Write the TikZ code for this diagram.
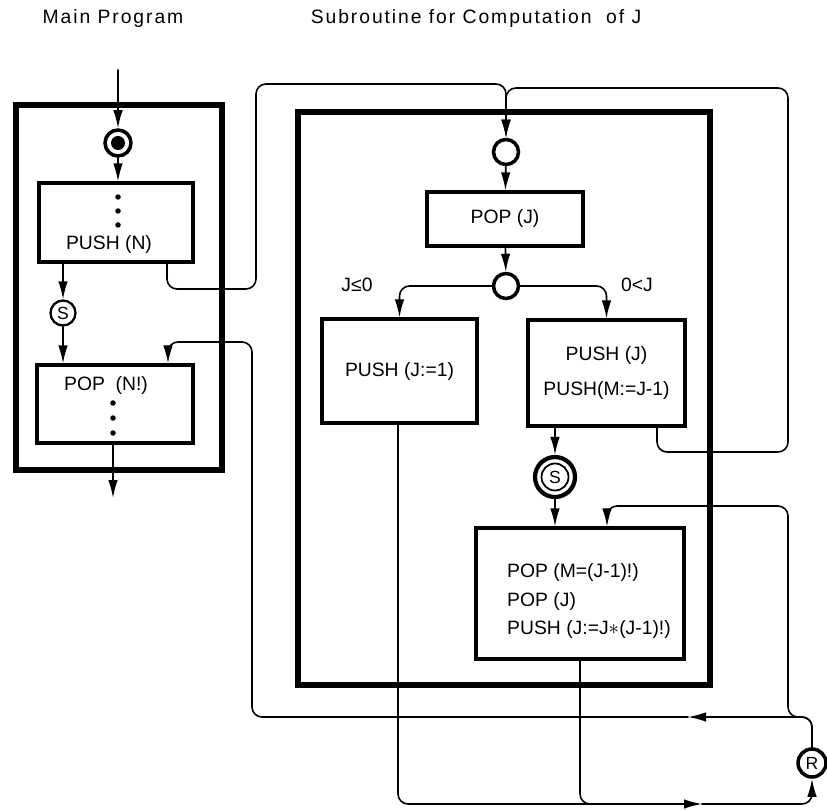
\documentclass[tikz,border=0pt]{standalone}
\usepackage{fontspec}
\setmainfont{Liberation Sans}
\newfontfamily\titlefont[LetterSpace=10]{Liberation Sans}
\usepackage{tikz}
\usetikzlibrary{arrows.meta}

\begin{document}
\begin{tikzpicture}[x=0.02cm,y=-0.02cm,cap=round,
        >={Latex[length=3.6mm,width=1.9mm]},
        conn/.style={line width=0.9pt,rounded corners=0.2cm},
        frame/.style={line width=3pt},
        box/.style={draw,rectangle,line width=1.8pt,inner sep=0pt},
        knot/.style={draw,circle,line width=2pt,inner sep=0pt,minimum size=0.5cm},
        small/.style={font=\fontsize{10}{10}\selectfont},
        every node/.style={font=\fontsize{11}{13}\selectfont}]
        \useasboundingbox (0,0) rectangle (827,810);

        % the two titles
        \node (tmain) at (113,19) {\titlefont Main Program};
        \node (tsub) at (476,19) {\titlefont Subroutine for Computation\ \ of J};

        % draw the main program
        \draw[frame] (16,105) rectangle (222,470);
        \node[knot,minimum size=0.52cm] (start) at (118,143) {};
        \fill (start) circle (0.14cm);
        \node[box,minimum width=3.08cm,minimum height=1.58cm] (pushn) at (116,222.5) {};
        \foreach \y in {197,211,225}
                \fill (118,\y) circle (0.055cm);
        \node (pushntxt) at (109,245) {PUSH (N)};
        \node[knot,line width=1.3pt,small] (sone) at (63,313) {S};
        \node[box,minimum width=3.12cm,minimum height=1.56cm] (popn) at (115,404) {};
        \node (popntxt) at (106,385) {POP\ \ (N!)};
        \foreach \y in {403,418,433}
                \fill (113,\y) circle (0.055cm);

        \coordinate (min) at (118,70);
        \coordinate (mout) at (113,498);
        \draw[conn,->] (min) -- (start);
        \draw[conn,->] (start) -- (start |- pushn.north);
        \draw[conn,->] (sone |- pushn.south) -- (sone);
        \draw[conn,->] (sone) -- (sone |- popn.north);
        \draw[conn,->] (mout |- popn.south) -- (mout);

        % draw the subroutine
        \draw[frame] (298,112) rectangle (710,685);
        \node[knot] (cin) at (506,152) {};
        \node[box,minimum width=3.12cm,minimum height=1.08cm] (popj) at (505,219) {POP (J)};
        \node[knot] (cdec) at (506,286) {};
        \node (lle) at (357,285) {J≤0};
        \node (lgt) at (637,285) {0<J};
        \node[box,minimum width=3.1cm,minimum height=2.08cm] (pushone) at (399.5,371) {PUSH (J:=1)};
        \node[box,minimum width=3.14cm,minimum height=2.12cm,align=center] (pushjm) at (606.5,373)
                {PUSH (J)\\[7pt]PUSH(M:=J-1)};
        \node[knot,line width=2.4pt,minimum size=0.8cm,small] (stwo) at (555,477) {S};
        \draw[line width=1pt] (stwo.center) circle (0.27cm);
        \node[box,minimum width=4.16cm,minimum height=2.62cm] (popm) at (580,593.5) {};
        \node[align=left,font=\fontsize{11}{16.5}\selectfont] (popmtxt) at (589,601)
                {POP (M=(J-1)!)\\POP (J)\\PUSH (J:=J{\large$\ast$}(J-1)!)};
        \node[knot,minimum size=0.56cm,small] (ret) at (812,763) {R};

        \draw[conn,->] (cin) -- (popj);
        \draw[conn,->] (popj) -- (cdec);
        \draw[conn,->] (cdec.west) -| (pushone.north);
        \draw[conn,->] (cdec.east) -| (pushjm.north);
        \draw[conn,->] (stwo |- pushjm.south) -- (stwo);
        \draw[conn,->] (stwo) -- (stwo |- popm.north);

        % the calls, both end in the entry circle
        \coordinate (cl) at (167,289);
        \coordinate (jtop) at (506,84);
        \coordinate (rl) at (657,452);
        \coordinate (jtopr) at (506,88);
        \draw[conn,->] (cl |- pushn.south) -- (cl) -- (256,289) -- (256,84) -- (jtop) -- (cin);
        \draw[conn,->] (rl |- pushjm.south) -- (rl) -- (788,452) -- (788,88) -- (jtopr) -- (cin);

        % the returns, through R
        \coordinate (bl) at (398,804);
        \coordinate (bm) at (580,804);
        \coordinate (barr) at (702,804);
        \draw[conn,->] (bl |- pushone.south) -- (bl) -- (barr);
        \draw[conn] (bm |- popm.south) -- (bm) -- (640,804);
        \draw[conn,->] (barr) -- (812,804) -- (ret);

        \coordinate (rtop) at (812,717);
        \coordinate (uarr) at (688,717);
        \coordinate (rmain) at (168,342);
        \coordinate (rsub) at (607,506);
        \draw[conn,->] (ret) -- (rtop) -- (uarr);
        \draw[conn,->] (uarr) -- (252,717) -- (252,342) -- (rmain) -- (rmain |- popn.north);
        \draw[conn,->] (ret) -- (rtop) -- (788,717) -- (788,506) -- (rsub) -- (rsub |- popm.north);
\end{tikzpicture}
\end{document}
